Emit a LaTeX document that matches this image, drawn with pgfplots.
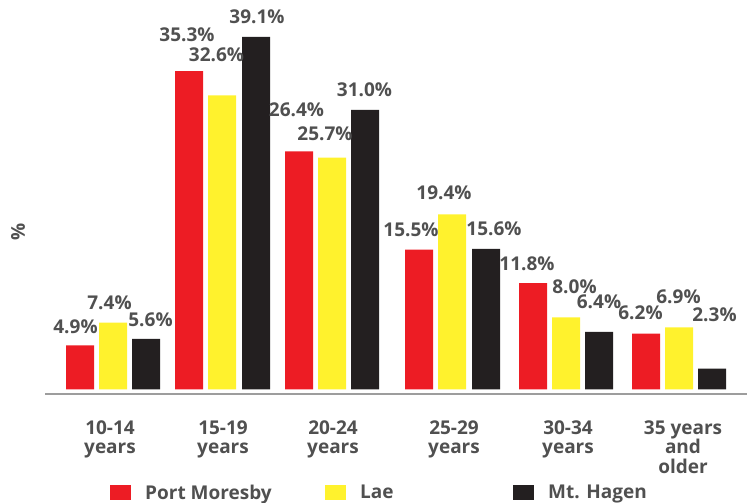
\documentclass[border=0pt]{standalone}
\usepackage{fontspec}
\setmainfont{Open Sans}
\usepackage{pgfplots}
\usepackage{pgfplotstable}
\pgfplotsset{compat=1.18}
\definecolor{pmred}{HTML}{ED1C24}
\definecolor{laeyel}{HTML}{FFF22D}
\definecolor{mhblk}{HTML}{231F20}
\definecolor{labgray}{HTML}{505050}
\definecolor{axgray}{HTML}{9D9D9D}

\pgfplotsset{
  /pgfplots/ybar legend/.style={/pgfplots/legend image code/.code={%
      \fill[##1] (0pt,-7.7pt) rectangle (21pt,7.3pt);
      \path (35pt,0pt);}},
}

% x = bar centre position, y = value, dx/dy = label offset (pt)
\pgfplotstableread{
x y dx dy
80 4.9 -4.5 12
189 35.3 -2 29.3
299 26.4 -2.5 35
419 15.5 -8 13
533 11.8 -6 13
646 6.2 -5.5 14
}\pm
\pgfplotstableread{
x y dx dy
113 7.4 -3.5 13
222 32.6 -5.5 34
332 25.7 -7 17
452 19.4 -8 15
566 8.0 8.5 24
679 6.9 -0.5 24
}\lae
\pgfplotstableread{
x y dx dy
146 5.6 4.5 12
256 39.1 1 13
365 31.0 -0.5 13
486 15.6 8 13
599 6.4 0 23
712 2.3 2.5 47
}\mh

\newcommand{\lblfont}{\fontsize{19pt}{19.5pt}\selectfont\bfseries}

\begin{document}
\begin{tikzpicture}
\useasboundingbox (0,0) rectangle (747pt,503pt);
\begin{axis}[
  at={(45pt,109.3pt)}, anchor=south west,
  scale only axis,
  width=702pt, height=393.7pt,
  xmin=45, xmax=747,
  ymin=-0.466, ymax=43.18,
  enlargelimits=false,
  clip=false,
  ybar, bar width=28, bar shift=0pt,
  axis x line=bottom, axis y line=none,
  x axis line style={-, draw=axgray, line width=2pt},
  major tick length=0pt,
  ytick=\empty,
  xtick={110,223,333,454,568,683},
  xticklabels={{10-14\\years},{15-19\\years},{20-24\\years},{25-29\\years},{30-34\\years},{35 years\\and\\older}},
  xticklabel style={font=\lblfont, text=labgray, align=center, anchor=north, inner sep=0pt, yshift=-26.5pt},
  /pgf/number format/assume math mode=true,
  visualization depends on={\thisrow{dx}\as\dx},
  visualization depends on={\thisrow{dy}\as\dy},
  nodes near coords={\pgfmathprintnumber[fixed,fixed zerofill,precision=1]{\pgfplotspointmeta}\%},
  every node near coord/.append style={anchor=base, xshift=\dx pt, yshift=\dy pt, font=\lblfont, text=labgray, inner sep=0pt},
  legend columns=3,
  legend cell align=left,
  legend style={draw=none, fill=none, inner sep=0pt, column sep=0pt,
    at={(axis description cs:0.0926,-0.2309)}, anchor=north west,
    font=\lblfont, text=labgray, nodes={inner sep=0pt}},
]
\addplot[fill=pmred, draw=none, bar shift=0pt] table[x=x,y=y] {\pm};
\addlegendentry{\makebox[180pt][l]{Port Moresby}}
\addplot[fill=laeyel, draw=none, bar shift=0pt] table[x=x,y=y] {\lae};
\addlegendentry{\makebox[153pt][l]{Lae}}
\addplot[fill=mhblk, draw=none, bar shift=0pt] table[x=x,y=y] {\mh};
\addlegendentry{Mt. Hagen}
\node[rotate=90, font=\lblfont, text=labgray, inner sep=0pt] at (axis description cs:-0.0385,0.411) {\%};
\end{axis}
\end{tikzpicture}
\end{document}
